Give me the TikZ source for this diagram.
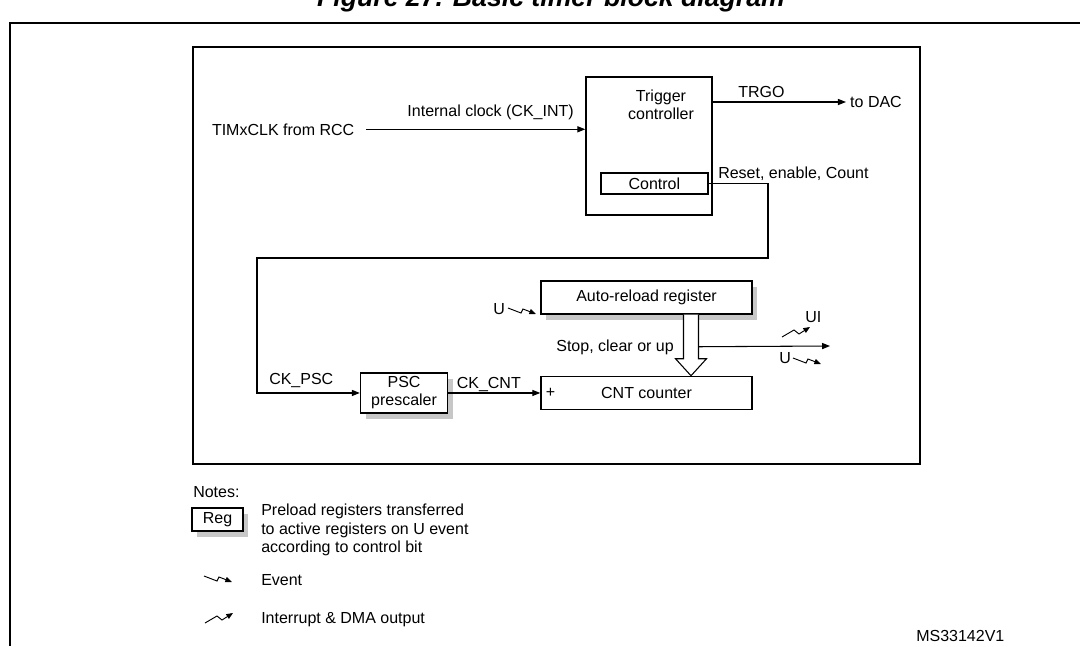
\documentclass[tikz,border=0pt]{standalone}
\usepackage{fontspec}
\setmainfont{Liberation Sans}
\usetikzlibrary{arrows.meta}
\usetikzlibrary{positioning}
\usetikzlibrary{shadows}
\usetikzlibrary{calc}

\tikzset{
  block/.style={draw, line width=1.1pt, fill=white, inner sep=0pt, align=center, font=\fontsize{12}{13.5}\selectfont},
  shadowblock/.style={block, drop shadow={shadow xshift=4pt, shadow yshift=-4.5pt, fill=black!22, opacity=1}},
  lbl/.style={inner sep=0pt, font=\fontsize{12}{14}\selectfont},
  wire/.style={line width=0.8pt, -{Triangle[length=6pt,width=4.6pt]}},
  evtsym/.pic={\draw[line width=0.7pt, -{Triangle[length=5pt,width=4pt]}] (0,0) -- (13,5) -- (15,1) -- (28,6);},
  irqsym/.pic={\draw[line width=0.7pt, -{Triangle[length=5pt,width=4pt]}] (0,0) -- (12,-7) -- (17,-3) -- (28,-10);}
}

\begin{document}
\begin{tikzpicture}[x=0.75pt, y=-0.75pt]
\useasboundingbox (0,0) rectangle (1080,646);

% frame and title
\node[lbl, font=\fontsize{20}{24}\selectfont\bfseries\itshape, anchor=base] (title) at (551,7) {Figure 27. Basic timer block diagram};
\draw[line width=1.8pt] (1080,23) -- (10,23) -- (10,646);
\draw[line width=0.9pt] (193,47) rectangle (920,464);

% blocks
\node[block, minimum width=94.5pt, minimum height=103.5pt] (trig) at (649,146) {};
\node[lbl, align=center, font=\fontsize{12}{13.5}\selectfont, below=10pt of trig.north, xshift=9pt] (triglbl) {Trigger\\controller};
\node[block, minimum width=80.25pt, minimum height=15.75pt, above=15.75pt of trig.south, xshift=4pt] (ctrl) {Control};
\node[shadowblock, minimum width=158.25pt, minimum height=24.75pt] (arr) at (646.5,297.5) {Auto-reload register};
\node[block, minimum width=158.25pt, minimum height=24.75pt, below=45.75pt of arr] (cnt) {CNT counter};
\node[lbl, right=4pt of cnt.west] (plus) {+};
\node[shadowblock, minimum width=65.25pt, minimum height=30pt, left=69pt of cnt] (psc) {PSC\\prescaler};

% clock input
\node[lbl, outer xsep=9pt, anchor=base west] (clk) at (200,135) {TIMxCLK from RCC};
\draw[wire] (clk.east) -- (clk.east -| trig.west)
  node[lbl, pos=1, anchor=base east, xshift=-8.25pt, yshift=9.75pt] (intclk) {Internal clock (CK\_INT)};

% trigger output
\node[lbl, inner xsep=3pt] (dac) at (876,102) {to DAC};
\draw[wire] (trig.east |- dac.west) -- (dac.west)
  node[lbl, pos=0.365, above=2.5pt] (trgo) {TRGO};

% control to prescaler
\coordinate (bend) at (768,258);
\coordinate (ckpsc) at (257,258);
\draw[wire] (ctrl.east) -| (bend) -- (ckpsc) |- (psc.west);
\node[lbl, anchor=base west] (rst) at (718,178.5) {Reset, enable, Count};
\node[lbl, anchor=base west] (ckpsclbl) at (269,384.5) {CK\_PSC};

\draw[wire] (psc.east) -- (psc.east -| cnt.west)
  node[lbl, pos=0, anchor=base west, xshift=6pt, yshift=3pt] (ckcnt) {CK\_CNT};

% reload path
\draw[line width=0.8pt, fill=white] ($(arr.south)+(37,0)$) coordinate (dblL) -- ++(0,44) -- ++(-8,0) -- ++(15.5,17) -- ++(15.5,-17) -- ++(-8,0) -- ++(0,-44);
\coordinate (dblR) at ($(arr.south)+(52,32)$);
\coordinate (uout) at (830,346);
\draw[wire] (dblR) -- (uout);
\node[lbl, anchor=base east] (stop) at (674,351.5) {Stop, clear or up};

% events
\node[lbl, anchor=base west] (uarr) at (493,314) {U};
\pic at (508,308) {evtsym};
\node[lbl, anchor=base west] (ui) at (805,322) {UI};
\pic at (782,337) {irqsym};
\node[lbl, anchor=base west] (uevt) at (779,363) {U};
\pic at (793,358) {evtsym};

% notes
\node[lbl, anchor=base west] (notes) at (193,497) {Notes:};
\node[shadowblock, minimum width=38.25pt, minimum height=17.25pt] (reg) at (217.5,519.5) {Reg};
\node[lbl, anchor=north west, align=left] (reglbl) at (261,503.5) {Preload registers transferred\\to active registers on U event\\according to control bit};
\pic at (204,576) {evtsym};
\node[lbl, anchor=base west] (evtlbl) at (261,585) {Event};
\pic at (205,623) {irqsym};
\node[lbl, anchor=base west] (irqlbl) at (261,623.5) {Interrupt \& DMA output};
\node[lbl, anchor=base west] (msref) at (916,641) {MS33142V1};
\end{tikzpicture}
\end{document}
